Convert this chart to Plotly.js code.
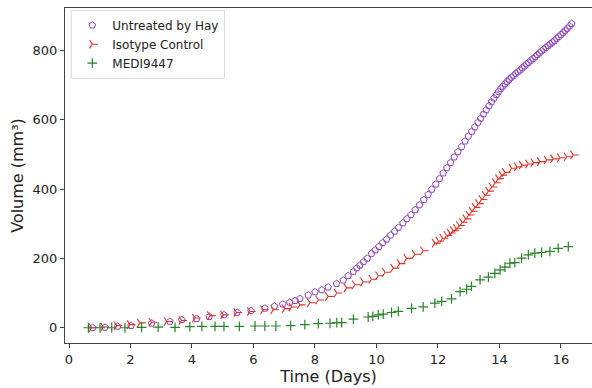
<!DOCTYPE html>
<html><head><meta charset="utf-8">
<script src="https://cdn.plot.ly/plotly-3.0.1.min.js"></script>
<style>html,body{margin:0;padding:0;background:#fff}#chart{width:592px;height:388px}</style>
</head><body><div id="chart"></div>
<script>
const untreatedDays = [0.77,1.17,1.58,2.02,2.69,3.28,3.67,4.15,4.56,5.04,5.47,5.92,6.37,6.68,6.95,7.18,7.35,7.51,7.78,8.00,8.22,8.43,8.70,8.92,9.08,9.25,9.36,9.46,9.58,9.70,9.84,9.96,10.08,10.20,10.33,10.46,10.59,10.72,10.86,10.99,11.12,11.26,11.40,11.54,11.68,11.80,11.93,12.05,12.17,12.29,12.41,12.53,12.65,12.77,12.88,12.99,13.10,13.20,13.30,13.39,13.48,13.57,13.66,13.74,13.82,13.90,13.97,14.04,14.11,14.18,14.25,14.32,14.39,14.46,14.53,14.60,14.67,14.74,14.81,14.88,14.95,15.02,15.09,15.16,15.23,15.30,15.37,15.44,15.51,15.58,15.65,15.72,15.79,15.86,15.93,16.00,16.07,16.14,16.21,16.28,16.35];
const untreatedVol = [0,1,4,6,13,18,23,26,32,37,44,49,56,62,68,73,78,84,94,103,109,117,127,137,150,162,172,180,190,200,214,224,234,245,255,267,278,289,302,314,326,340,354,369,384,399,414,430,446,461,476,492,507,522,538,552,566,579,592,604,616,628,640,651,662,672,681,689,696,703,710,716,722,727,733,738,743,749,754,760,765,771,776,781,787,792,798,803,808,813,818,823,828,834,839,845,851,857,863,870,877];

const isotypeDays = [0.74,1.12,1.55,1.98,2.31,2.69,3.18,3.66,4.10,4.59,5.02,5.45,5.89,6.32,6.65,7.02,7.24,7.51,7.84,8.11,8.43,8.71,9.03,9.30,9.57,9.84,10.06,10.28,10.55,10.76,10.98,11.25,11.52,11.90,12.02,12.15,12.28,12.39,12.49,12.59,12.69,12.79,12.90,13.00,13.10,13.20,13.31,13.42,13.53,13.64,13.75,13.86,13.96,14.07,14.18,14.40,14.57,14.73,14.94,15.11,15.32,15.54,15.75,15.97,16.19,16.40];
const isotypeVol = [0,2,6,9,14,16,18,21,28,35,37,44,47,52,52,55,60,66,72,80,90,100,115,124,132,140,150,160,172,185,200,212,222,244,250,258,266,273,280,287,295,304,314,325,336,347,358,370,382,394,406,418,430,440,448,460,464,469,472,476,479,484,487,490,493,498];

const mediDays = [0.63,1.01,1.39,1.82,2.36,2.90,3.45,3.93,4.32,4.75,5.04,5.54,6.05,6.37,6.73,7.21,7.67,8.11,8.49,8.71,8.87,9.25,9.73,9.88,10.06,10.22,10.49,10.71,11.14,11.52,11.90,12.12,12.44,12.72,12.93,13.09,13.37,13.64,13.85,14.02,14.18,14.34,14.50,14.72,14.94,15.15,15.37,15.64,15.91,16.24];
const mediVol = [0,0,0,0,1,2,1,3,4,4,4,4,5,5,5,6,9,12,13,15,15,25,31,33,37,39,44,47,56,60,71,76,83,104,111,119,138,146,157,167,175,186,188,201,210,215,217,220,229,234];

const seriesNames = ['Untreated by Hay','Isotype Control','MEDI9447'];
const xTicks = [0,2,4,6,8,10,12,14,16];
const yTicks = [0,200,400,600,800];

const font = 'DejaVu Sans, sans-serif';
const traces = [
  {x: untreatedDays, y: untreatedVol, name: seriesNames[0], type:'scatter', mode:'markers',
   marker:{symbol:'pentagon-open', size:7, color:'rgb(140,70,190)', line:{width:1}}},
  {x: isotypeDays, y: isotypeVol, name: seriesNames[1], type:'scatter', mode:'markers',
   marker:{symbol:'y-right', size:7, color:'rgb(220,50,40)', line:{width:1.1, color:'rgb(220,50,40)'}}},
  {x: mediDays, y: mediVol, name: seriesNames[2], type:'scatter', mode:'markers',
   marker:{symbol:'cross-thin', size:7, color:'rgb(40,130,40)', line:{width:1.2, color:'rgb(40,130,40)'}}}
];
const layout = {
  width:592, height:388,
  margin:{l:65, r:0, t:8, b:45},
  paper_bgcolor:'#fff', plot_bgcolor:'#fff',
  font:{family:font, color:'#222', size:13},
  showlegend:true,
  legend:{x:0.012, y:0.995, xanchor:'left', yanchor:'top', bgcolor:'rgba(255,255,255,0.9)',
          bordercolor:'#ddd', borderwidth:1, font:{family:font, size:12, color:'#222'}, tracegroupgap:0},
  xaxis:{range:[-0.13,17.01], tickvals:xTicks, ticktext:xTicks.map(String), showgrid:false, zeroline:false,
         showline:true, mirror:true, linecolor:'#444', linewidth:1, ticks:'outside', ticklen:4, tickcolor:'#444',
         tickfont:{size:13, family:font}, title:{text:'Time (Days)', font:{size:16, family:font}, standoff:0}},
  yaxis:{range:[-44,922], tickvals:yTicks, ticktext:yTicks.map(String), showgrid:false, zeroline:false,
         showline:true, mirror:true, linecolor:'#444', linewidth:1, ticks:'outside', ticklen:4, tickcolor:'#444',
         tickfont:{size:13, family:font}, title:{text:'Volume (mm³)', font:{size:16, family:font}, standoff:4}}
};
Plotly.newPlot('chart', traces, layout, {displayModeBar:false, staticPlot:true});
</script></body></html>
